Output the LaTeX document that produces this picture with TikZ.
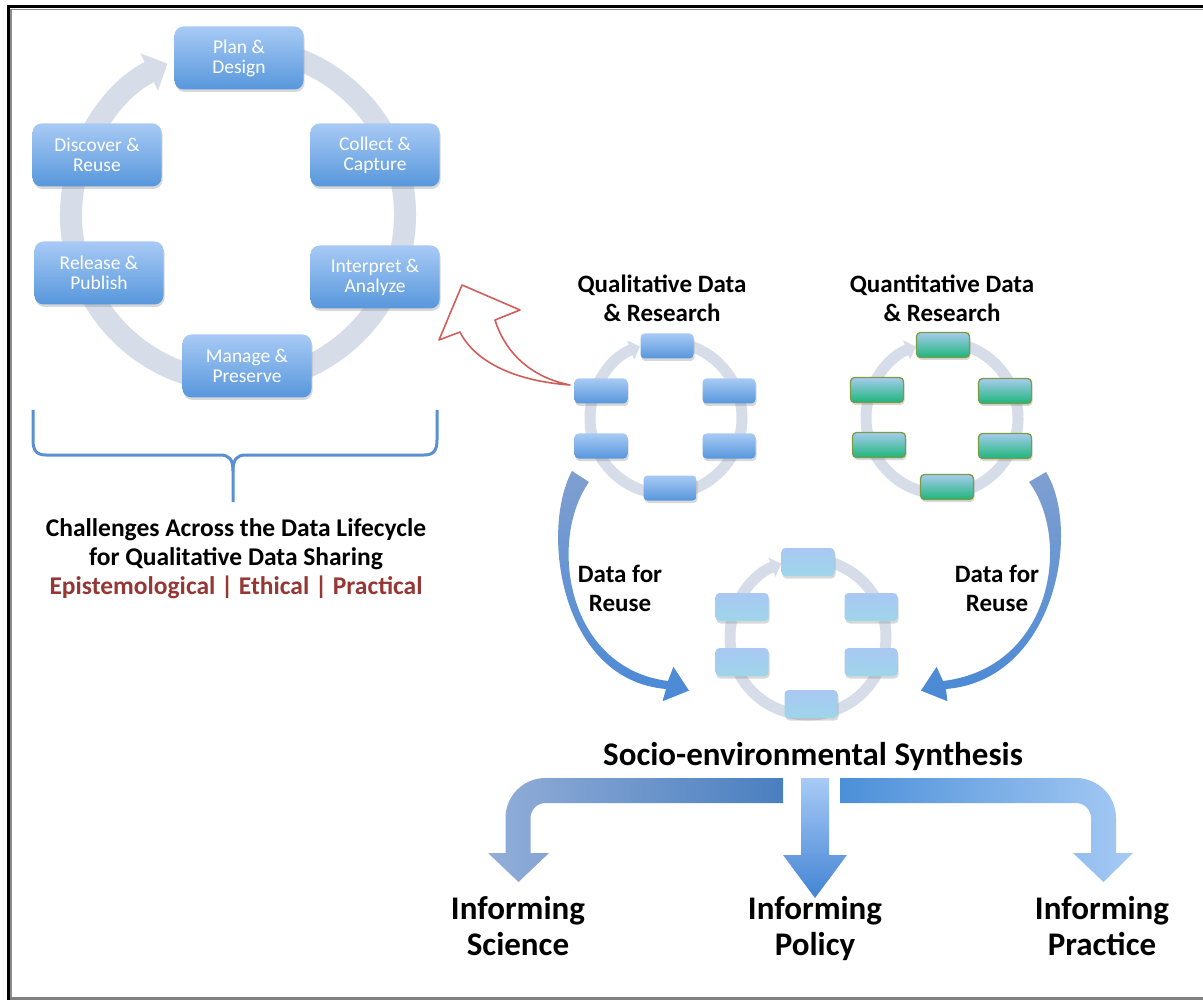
\documentclass[tikz,border=0pt]{standalone}
\usepackage{fontspec}
\setmainfont{Carlito}
\usetikzlibrary{arrows.meta,shadows}

\definecolor{ringgray}{HTML}{D6DCE8}
\definecolor{stagetop}{HTML}{A8CAF5}
\definecolor{stagebot}{HTML}{5797DC}
\definecolor{quanttop}{HTML}{A6CCEE}
\definecolor{quantbot}{HTML}{1DB57A}
\definecolor{quantedge}{HTML}{7D9A45}
\definecolor{midtop}{HTML}{A9C8F3}
\definecolor{midbot}{HTML}{9ED5EA}
\definecolor{bracketblue}{HTML}{5B8FD3}
\definecolor{redline}{HTML}{D25E5C}
\definecolor{epist}{HTML}{953735}
\definecolor{flowA}{HTML}{7F9FD0}
\definecolor{flowB}{HTML}{4A89D6}
\definecolor{sciA}{HTML}{93AED8}
\definecolor{sciB}{HTML}{4A7FC0}
\definecolor{polA}{HTML}{A8CBF6}
\definecolor{polB}{HTML}{4384D4}
\definecolor{praA}{HTML}{4B8FD8}
\definecolor{praB}{HTML}{A6CAF4}

\begin{document}
\begin{tikzpicture}[x=1pt,y=1pt,
  ring/.style={draw=ringgray},
  softshadow/.style={drop shadow={shadow xshift=1pt,shadow yshift=-2.5pt,opacity=0.3}},
  stage/.style={rounded corners=9pt, minimum width=129pt, minimum height=63pt,
    inner sep=2pt, top color=stagetop, bottom color=stagebot, text=white,
    align=center, font=\fontsize{19.5}{20}\selectfont, softshadow},
  qbox/.style={rounded corners=4pt, minimum width=53pt, minimum height=25pt,
    inner sep=0pt, top color=stagetop, bottom color=stagebot, softshadow},
  nbox/.style={qbox, top color=quanttop, bottom color=quantbot, draw=quantedge, line width=1.3pt},
  mbox/.style={qbox, top color=midtop, bottom color=midbot},
  title/.style={font=\bfseries\fontsize{25}{29}\selectfont, align=center, anchor=base},
  outcome/.style={font=\bfseries\fontsize{33}{36}\selectfont, align=center, anchor=base},
  redarrow/.style={draw=redline, line width=1.6pt, fill=white, line join=round},
]
\useasboundingbox (0,0) rectangle (1203,-1000);
\fill[white] (0,0) rectangle (1203,-1000);

% page frame
\draw[black!45, line width=1.5pt] (10,-9.5) -- (1203,-9.5);
\draw[black!45, line width=1.5pt] (10.8,-9) -- (10.8,-1000);
\draw[black, line width=3.5pt] (7,-6.5) -- (1203,-6.5);
\draw[black, line width=3.5pt] (8.5,-4.75) -- (8.5,-1000);
\draw[black!50, line width=3pt] (10,-998.5) -- (1203,-998.5);

% ---------------- data lifecycle ----------------
\draw[ring, line width=22pt, -{Triangle[length=20pt,width=40pt]}, shift={(238,-215)}]
  (80:167) arc[start angle=80, end angle=-245, radius=167];

\node[stage] (plan)     at (239,-58)  {Plan \&\\Design};
\node[stage] (collect)  at (375,-155) {Collect \&\\Capture};
\node[stage] (interp)   at (375,-277) {Interpret \&\\Analyze};
\node[stage] (manage)   at (247,-366) {Manage \&\\Preserve};
\node[stage] (release)  at (99,-273)  {Release \&\\Publish};
\node[stage] (discover) at (97,-155)  {Discover \&\\Reuse};

% brace under the lifecycle
\draw[bracketblue, line width=3pt, line join=round]
  (33,-410) -- (33,-440) .. controls (33,-450) and (36,-455) .. (46,-455)
  -- (220,-455) .. controls (229,-455) and (233,-459) .. (233,-471) -- (233,-502);
\draw[bracketblue, line width=3pt, line join=round]
  (437,-410) -- (437,-440) .. controls (437,-450) and (434,-455) .. (424,-455)
  -- (246,-455) .. controls (237,-455) and (233,-459) .. (233,-471);

\node[title, font=\bfseries\fontsize{25.5}{29}\selectfont] (challenges) at (236,-594)
  {Challenges Across the Data Lifecycle\\for Qualitative Data Sharing\\
   \textcolor{epist}{Epistemological | Ethical | Practical}};

% red pointer back to the lifecycle
\draw[redarrow] (462,-285) -- (520,-310) -- (495,-320)
  .. controls (505,-352) and (530,-377) .. (570,-385)
  .. controls (515,-381) and (475,-362) .. (460,-332)
  -- (439,-340) -- cycle;

% ---------------- qualitative cycle ----------------
\draw[ring, line width=11pt, -{Triangle[length=10pt,width=20pt]}, shift={(666,-418)}]
  (80:76) arc[start angle=80, end angle=-250, radius=76];
\node[qbox] (ql1) at (667,-346) {};
\node[qbox] (ql2) at (729,-391) {};
\node[qbox] (ql3) at (729,-446) {};
\node[qbox] (ql4) at (670,-488) {};
\node[qbox] (ql5) at (601,-446) {};
\node[qbox] (ql6) at (601,-391) {};
\node[title] (qualtitle) at (662,-322) {Qualitative Data\\\& Research};

% ---------------- quantitative cycle ----------------
\draw[ring, line width=11pt, -{Triangle[length=10pt,width=20pt]}, shift={(942,-418)}]
  (80:76) arc[start angle=80, end angle=-250, radius=76];
\node[nbox] (qn1) at (943,-345) {};
\node[nbox] (qn2) at (1005,-391) {};
\node[nbox] (qn3) at (1005,-446) {};
\node[nbox] (qn4) at (947,-487) {};
\node[nbox] (qn5) at (879,-445) {};
\node[nbox] (qn6) at (877,-390) {};
\node[title] (quanttitle) at (942,-322) {Quantitative Data\\\& Research};

% ---------------- synthesis cycle ----------------
\draw[ring, line width=11pt, -{Triangle[length=10pt,width=20pt]}, shift={(808,-637)}]
  (80:78) arc[start angle=80, end angle=-250, radius=78];
\node[mbox, minimum height=28pt] (ms1) at (808,-562) {};
\node[mbox, minimum height=28pt] (ms2) at (871,-607) {};
\node[mbox, minimum height=28pt] (ms3) at (871,-662) {};
\node[mbox, minimum height=28pt] (ms4) at (811,-704) {};
\node[mbox, minimum height=28pt] (ms5) at (742,-662) {};
\node[mbox, minimum height=28pt] (ms6) at (742,-607) {};

% data flowing into the synthesis (tapered curved arrows)
\shade[top color=flowA, bottom color=flowB]
  (572,-471) .. controls (540,-530) and (560,-680) .. (666,-689)
  -- (662.6,-701.2) -- (689,-690.6) -- (673.4,-666.8) -- (668,-681)
  .. controls (566,-668) and (548,-540) .. (589,-482) -- cycle;
\shade[top color=flowA, bottom color=flowB]
  (1046,-472) .. controls (1082,-530) and (1055,-680) .. (946,-689)
  -- (947.4,-701.2) -- (921,-690.6) -- (936.6,-666.8) -- (943,-681)
  .. controls (1052,-668) and (1072,-540) .. (1029,-482) -- cycle;
\node[title] (reuseL) at (620,-611) {Data for\\Reuse};
\node[title] (reuseR) at (997,-611) {Data for\\Reuse};

\node[font=\bfseries\fontsize{33}{35}\selectfont, anchor=base] (synth) at (813,-765)
  {Socio-environmental Synthesis};

% outcome arrows
\shade[left color=sciA, right color=sciB]
  (783,-778) -- (545.5,-778) arc[start angle=90, end angle=180, radius=40]
  -- (505.5,-853) -- (488,-853) -- (518.5,-882) -- (549,-853) -- (530.5,-853)
  -- (530.5,-818) arc[start angle=180, end angle=90, radius=15]
  -- (783,-803) -- cycle;
\shade[top color=polA, bottom color=polB]
  (801,-778) -- (829,-778) -- (829,-855) -- (847,-855) -- (815,-898)
  -- (783,-855) -- (801,-855) -- cycle;
\shade[left color=praA, right color=praB]
  (840,-778) -- (1076,-778) arc[start angle=90, end angle=0, radius=40]
  -- (1116,-853) -- (1133,-853) -- (1103.5,-882) -- (1073,-853) -- (1091,-853)
  -- (1091,-818) arc[start angle=0, end angle=90, radius=15]
  -- (840,-803) -- cycle;

\node[outcome] (science)  at (518,-955)  {Informing\\Science};
\node[outcome] (policy)   at (815,-955)  {Informing\\Policy};
\node[outcome] (practice) at (1102,-955) {Informing\\Practice};
\end{tikzpicture}
\end{document}
